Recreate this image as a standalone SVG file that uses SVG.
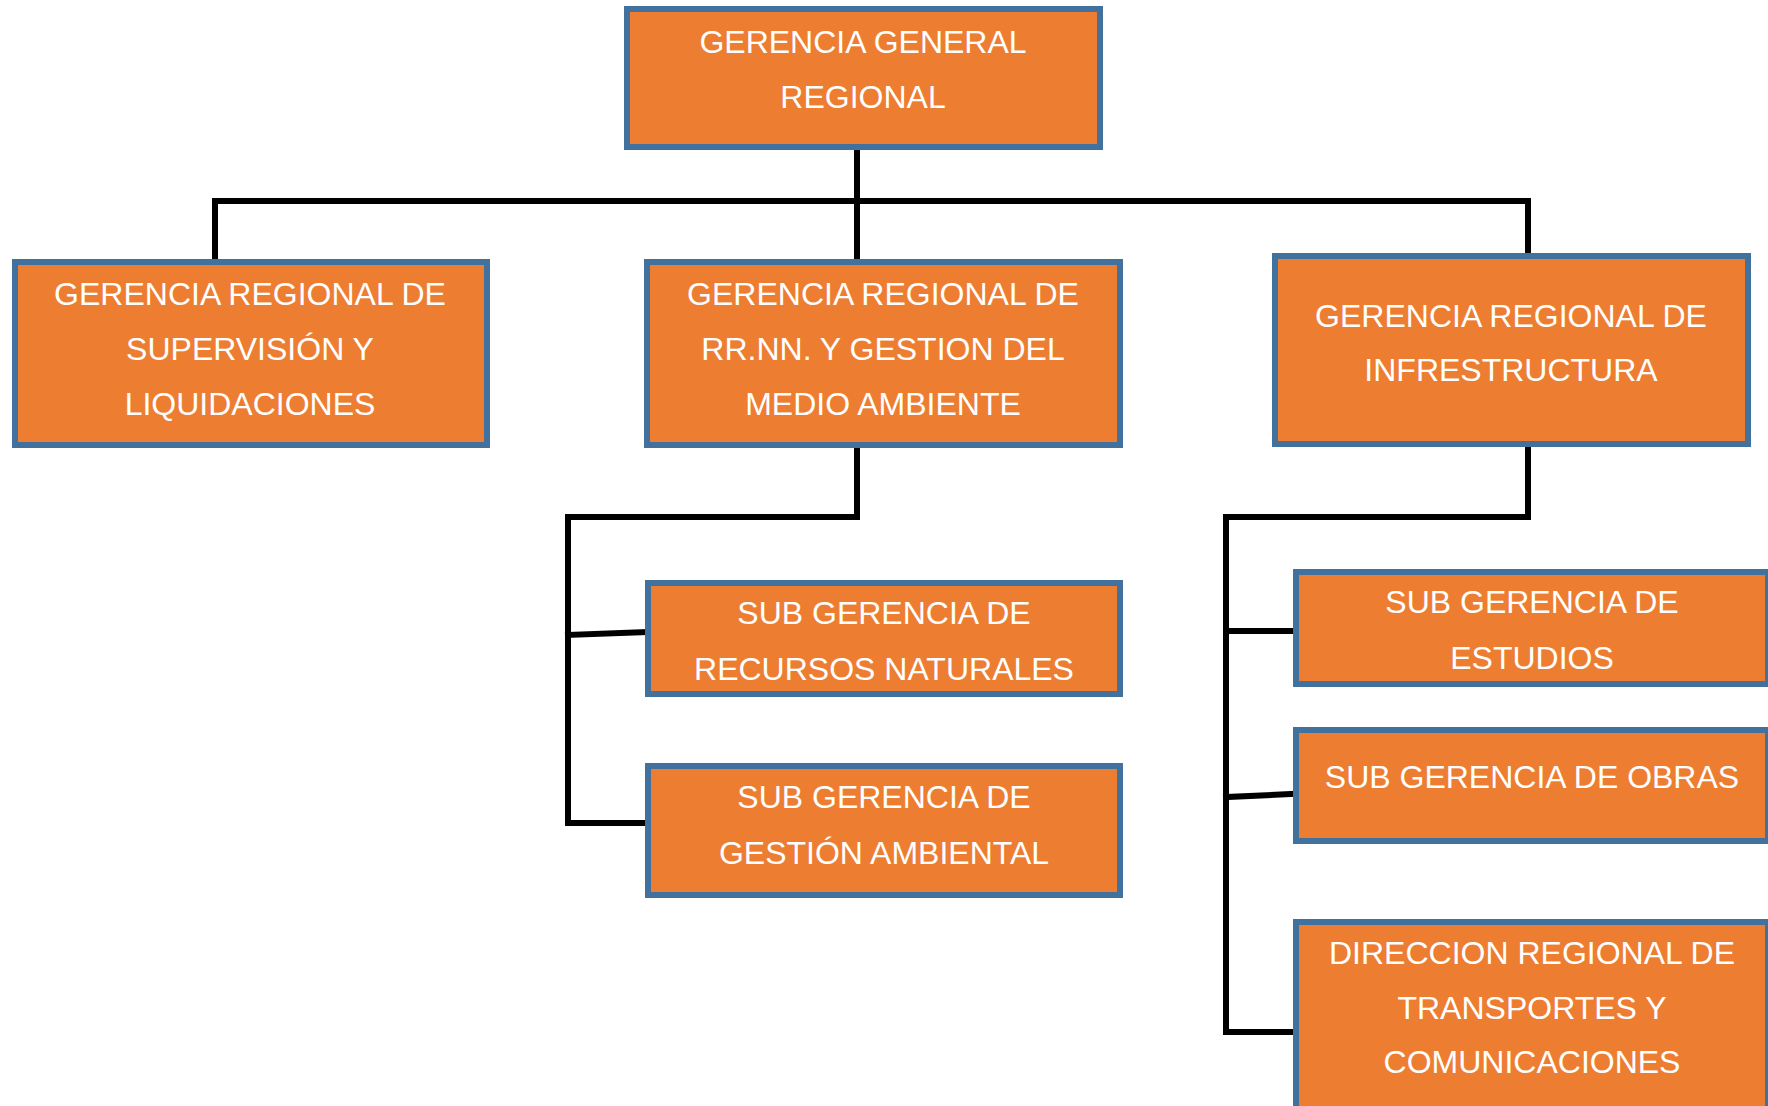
<svg xmlns="http://www.w3.org/2000/svg" width="1768" height="1106" viewBox="0 0 1768 1106">
<style>
.box{fill:#ED7D31;stroke:#41719C;stroke-width:6}
.lbl{fill:#FFFFFF;font-family:"Liberation Sans",Arial,sans-serif;font-size:32px;text-anchor:middle}
.con{stroke:#000000;stroke-width:6;fill:none;stroke-linecap:square}
</style>
<rect width="1768" height="1106" fill="#FFFFFF"/>
<g id="connectors">
<line class="con" x1="857" y1="150" x2="857" y2="258"/>
<line class="con" x1="215" y1="201" x2="1528" y2="201"/>
<line class="con" x1="215" y1="201" x2="215" y2="258"/>
<line class="con" x1="1528" y1="201" x2="1528" y2="252"/>
<line class="con" x1="857" y1="448" x2="857" y2="517"/>
<line class="con" x1="568" y1="517" x2="857" y2="517"/>
<line class="con" x1="568" y1="517" x2="568" y2="823"/>
<line class="con" x1="568" y1="635" x2="645" y2="632"/>
<line class="con" x1="568" y1="823" x2="645" y2="823"/>
<line class="con" x1="1528" y1="447" x2="1528" y2="517"/>
<line class="con" x1="1226" y1="517" x2="1528" y2="517"/>
<line class="con" x1="1226" y1="517" x2="1226" y2="1032"/>
<line class="con" x1="1226" y1="631" x2="1293" y2="631"/>
<line class="con" x1="1226" y1="797" x2="1293" y2="794"/>
<line class="con" x1="1226" y1="1032" x2="1293" y2="1032"/>
</g>
<g id="gerencia-general">
<rect class="box" x="627" y="9" width="473" height="138"/>
<text class="lbl" x="863" y="53">GERENCIA GENERAL</text>
<text class="lbl" x="863" y="108">REGIONAL</text>
</g>
<g id="gerencia-supervision">
<rect class="box" x="15" y="262" width="472" height="183"/>
<text class="lbl" x="250" y="305">GERENCIA REGIONAL DE</text>
<text class="lbl" x="250" y="360">SUPERVISIÓN Y</text>
<text class="lbl" x="250" y="415">LIQUIDACIONES</text>
</g>
<g id="gerencia-rrnn">
<rect class="box" x="647" y="262" width="473" height="183"/>
<text class="lbl" x="883" y="305">GERENCIA REGIONAL DE</text>
<text class="lbl" x="883" y="360">RR.NN. Y GESTION DEL</text>
<text class="lbl" x="883" y="415">MEDIO AMBIENTE</text>
</g>
<g id="gerencia-infraestructura">
<rect class="box" x="1275" y="256" width="473" height="188"/>
<text class="lbl" x="1511" y="327">GERENCIA REGIONAL DE</text>
<text class="lbl" x="1511" y="381">INFRESTRUCTURA</text>
</g>
<g id="sub-recursos">
<rect class="box" x="648" y="583" width="472" height="111"/>
<text class="lbl" x="884" y="624">SUB GERENCIA DE</text>
<text class="lbl" x="884" y="680">RECURSOS NATURALES</text>
</g>
<g id="sub-gestion">
<rect class="box" x="648" y="766" width="472" height="129"/>
<text class="lbl" x="884" y="808">SUB GERENCIA DE</text>
<text class="lbl" x="884" y="864">GESTIÓN AMBIENTAL</text>
</g>
<g id="sub-estudios">
<rect class="box" x="1296" y="572" width="472" height="112"/>
<text class="lbl" x="1532" y="613">SUB GERENCIA DE</text>
<text class="lbl" x="1532" y="669">ESTUDIOS</text>
</g>
<g id="sub-obras">
<rect class="box" x="1296" y="730" width="472" height="111"/>
<text class="lbl" x="1532" y="788">SUB GERENCIA DE OBRAS</text>
</g>
<g id="direccion-transportes">
<rect class="box" x="1296" y="922" width="472" height="200"/>
<text class="lbl" x="1532" y="964">DIRECCION REGIONAL DE</text>
<text class="lbl" x="1532" y="1019">TRANSPORTES Y</text>
<text class="lbl" x="1532" y="1073">COMUNICACIONES</text>
</g>
</svg>
